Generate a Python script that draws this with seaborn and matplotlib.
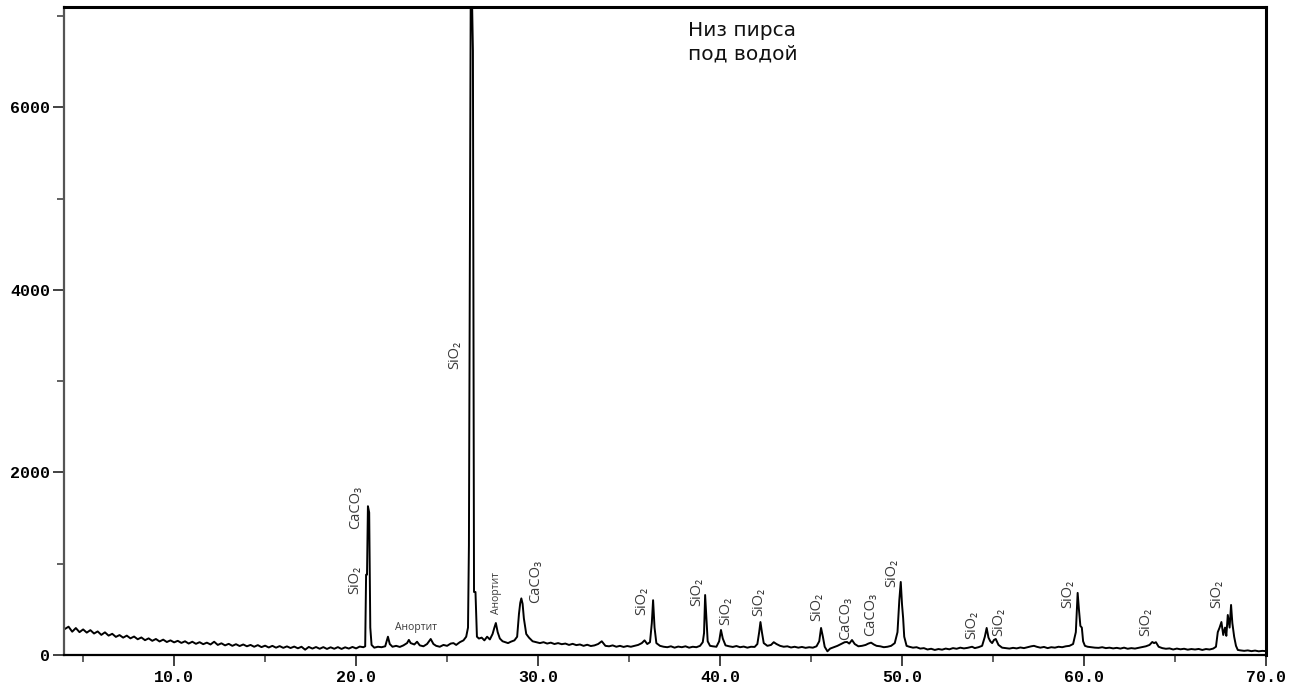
import numpy as np
import pandas as pd
import matplotlib
matplotlib.use("Agg")
import matplotlib.pyplot as plt
from matplotlib.ticker import MultipleLocator, FuncFormatter
import seaborn as sns

sns.set_style("white")

# ==========================================================
# DIFFRACTOGRAM
# ==========================================================

two_theta = [
    4.0, 4.2, 4.4, 4.6, 4.8, 5.0, 5.2, 5.4, 5.6, 5.8, 6.0, 6.2, 6.4, 6.6, 6.8,
    7.0, 7.2, 7.4, 7.6, 7.8, 8.0, 8.2, 8.4, 8.6, 8.8, 9.0, 9.2, 9.4, 9.6, 9.8,
    10.0, 10.2, 10.4, 10.6, 10.8, 11.0, 11.2, 11.4, 11.6, 11.8, 12.0, 12.2,
    12.4, 12.6, 12.8, 13.0, 13.2, 13.4, 13.6, 13.8, 14.0, 14.2, 14.4, 14.6,
    14.8, 15.0, 15.2, 15.4, 15.6, 15.8, 16.0, 16.2, 16.4, 16.6, 16.8, 17.0,
    17.2, 17.4, 17.6, 17.8, 18.0, 18.2, 18.4, 18.6, 18.8, 19.0, 19.2, 19.4,
    19.6, 19.8, 20.0, 20.2, 20.4,
    20.5, 20.55, 20.6, 20.65, 20.72, 20.78, 20.85, 21.0, 21.2, 21.4, 21.6,
    21.75, 21.85, 22.0, 22.2, 22.4, 22.6, 22.8, 22.9, 23.0, 23.2, 23.35, 23.5,
    23.7, 23.9, 24.1, 24.25, 24.4, 24.6, 24.8, 25.0, 25.2, 25.35, 25.5, 25.7,
    25.9, 26.05, 26.15, 26.2, 26.25, 26.3, 26.36, 26.42, 26.48, 26.56, 26.64,
    26.75, 26.9, 27.05, 27.2, 27.35, 27.5, 27.6, 27.68, 27.78, 27.9, 28.05,
    28.2, 28.35, 28.5, 28.7, 28.85, 28.95, 29.02, 29.08, 29.15, 29.22, 29.35,
    29.5, 29.7, 29.9, 30.1, 30.3, 30.5, 30.7, 30.9, 31.1, 31.3, 31.5, 31.7,
    31.9, 32.1, 32.3, 32.5, 32.7, 32.9, 33.1, 33.3, 33.5, 33.7, 33.9, 34.1,
    34.3, 34.5, 34.7, 34.9, 35.1, 35.3, 35.5, 35.7, 35.85, 36.0, 36.15, 36.25,
    36.32, 36.4, 36.5, 36.7, 36.9, 37.1, 37.3, 37.5, 37.7, 37.9, 38.1, 38.3,
    38.5, 38.7, 38.9, 39.05, 39.12, 39.18, 39.25, 39.32, 39.45, 39.6, 39.8,
    39.95, 40.05, 40.15, 40.3, 40.5, 40.7, 40.9, 41.1, 41.3, 41.5, 41.7, 41.9,
    42.05, 42.15, 42.22, 42.3, 42.4, 42.6, 42.8, 42.95, 43.1, 43.3, 43.5,
    43.7, 43.9, 44.1, 44.3, 44.5, 44.7, 44.9, 45.1, 45.3, 45.45, 45.55, 45.65,
    45.75, 45.9, 46.05, 46.25, 46.45, 46.65, 46.85, 46.98, 47.1, 47.25, 47.4,
    47.6, 47.8, 48.0, 48.15, 48.3, 48.45, 48.6, 48.8, 49.0, 49.2, 49.4, 49.6,
    49.75, 49.85, 49.93, 50.0, 50.06, 50.12, 50.25, 50.4, 50.6, 50.8, 51.0,
    51.2, 51.4, 51.6, 51.8, 52.0, 52.2, 52.4, 52.6, 52.8, 53.0, 53.2, 53.4,
    53.6, 53.85, 54.0, 54.2, 54.4, 54.55, 54.65, 54.75, 54.85, 54.95, 55.05,
    55.15, 55.3, 55.5, 55.7, 55.9, 56.1, 56.3, 56.5, 56.7, 56.9, 57.1, 57.25,
    57.4, 57.6, 57.8, 58.0, 58.2, 58.4, 58.6, 58.8, 59.0, 59.2, 59.4, 59.55,
    59.65, 59.72, 59.8, 59.88, 59.95, 60.05, 60.2, 60.4, 60.6, 60.8, 61.0,
    61.2, 61.4, 61.6, 61.8, 62.0, 62.2, 62.4, 62.6, 62.8, 63.0, 63.2, 63.4,
    63.6, 63.75, 63.85, 63.95, 64.1, 64.3, 64.5, 64.7, 64.9, 65.1, 65.3, 65.5,
    65.7, 65.9, 66.1, 66.3, 66.5, 66.7, 66.9, 67.1, 67.25, 67.35, 67.45, 67.55,
    67.65, 67.75, 67.82, 67.9, 68.0, 68.08, 68.15, 68.25, 68.35, 68.45, 68.6,
    68.8, 69.0, 69.2, 69.4, 69.6, 69.8, 70.0,
]

intensity = [
    285, 310, 255, 295, 250, 280, 245, 272, 235, 258, 220, 248, 212, 232, 198,
    218, 190, 212, 182, 202, 172, 192, 162, 182, 155, 175, 148, 168, 142, 160,
    138, 155, 132, 150, 125, 145, 122, 140, 118, 135, 115, 145,
    110, 128, 105, 122, 100, 118, 98, 115, 95, 110, 90, 108,
    86, 102, 82, 100, 80, 97, 78, 94, 76, 92, 73, 90,
    58, 88, 70, 87, 68, 86, 66, 84, 68, 86, 66, 84,
    70, 88, 72, 92, 85,
    95, 880, 880, 1630, 1560, 300, 110, 80, 90, 85, 95,
    200, 120, 90, 100, 88, 105, 130, 165, 130, 115, 145, 105,
    95, 120, 175, 120, 100, 90, 110, 100, 125, 130, 110, 140,
    160, 200, 300, 1200, 4100, 7300, 7300, 6620, 690, 690, 200,
    180, 190, 160, 200, 170, 230, 300, 350, 250, 180, 150,
    140, 130, 145, 160, 200, 450, 570, 620, 560, 400, 230,
    190, 150, 140, 130, 140, 125, 135, 120, 130, 118, 125, 110,
    122, 108, 115, 100, 112, 98, 105, 120, 150, 100, 95, 105,
    90, 100, 88, 98, 90, 100, 110, 130, 160, 120, 140, 350,
    600, 300, 130, 100, 90, 85, 95, 80, 92, 85, 95, 80,
    90, 85, 100, 140, 240, 657, 400, 150, 100, 95, 90,
    150, 274, 180, 105, 95, 88, 98, 85, 92, 80, 90, 88,
    120, 250, 361, 250, 130, 100, 110, 140, 120, 100, 90,
    95, 82, 90, 80, 88, 78, 85, 80, 95, 150, 296, 200,
    90, 40, 70, 85, 100, 120, 140, 142, 125, 164, 120,
    95, 100, 110, 125, 135, 115, 100, 95, 85, 90, 100, 130,
    250, 600, 800, 550, 405, 200, 100, 90, 80, 85, 70,
    75, 60, 68, 55, 65, 58, 70, 62, 75, 68, 80, 72,
    78, 90, 75, 85, 100, 200, 296, 190, 150, 130, 164,
    175, 110, 80, 75, 70, 78, 72, 82, 75, 85, 95, 100,
    90, 80, 88, 75, 85, 80, 90, 85, 95, 100, 120, 250,
    680, 500, 318, 300, 150, 100, 90, 85, 80, 78, 85,
    75, 80, 72, 78, 70, 80, 68, 75, 70, 78, 85, 95,
    110, 142, 130, 140, 90, 75, 68, 72, 60, 70, 62, 68,
    58, 65, 60, 66, 55, 65, 60, 70, 90, 250, 300, 361,
    219, 300, 210, 438, 300, 548, 350, 200, 100, 55, 50,
    45, 50, 42, 48, 40, 45, 42,
]

# phase labels: text, 2theta, intensity, rotation
label_text = ["SiO₂", "CaCO₃", "SiO₂", "Анортит", "Анортит", "CaCO₃",
              "SiO₂", "SiO₂", "SiO₂", "SiO₂", "SiO₂", "CaCO₃", "CaCO₃",
              "SiO₂", "SiO₂", "SiO₂", "SiO₂", "SiO₂", "SiO₂"]
label_x = [19.9, 20.0, 25.4, 23.3, 27.7, 29.85,
           35.7, 38.7, 40.3, 42.1, 45.3, 46.9, 48.3,
           49.45, 53.85, 55.3, 59.1, 63.4, 67.3]
label_y = [820, 1620, 3290, 296, 680, 810,
           590, 690, 480, 580, 525, 405, 440,
           895, 330, 360, 670, 360, 670]
label_rot = [90, 90, 90, 0, 90, 90,
             90, 90, 90, 90, 90, 90, 90,
             90, 90, 90, 90, 90, 90]

df = pd.DataFrame({"two_theta": two_theta, "intensity": intensity})

# ==========================================================
# FIGURE
# ==========================================================

fig = plt.figure(figsize=(13.01, 6.95), dpi=100)
ax = fig.add_axes([0.0492, 0.0576, 0.9239, 0.9323])

sns.lineplot(data=df, x="two_theta", y="intensity", ax=ax,
             color="black", linewidth=1.4, estimator=None, sort=False)

ax.set_xlim(3.95, 70)
ax.set_ylim(0, 7100)
ax.set_xlabel("")
ax.set_ylabel("")

ax.xaxis.set_major_locator(MultipleLocator(10))
ax.xaxis.set_minor_locator(MultipleLocator(5))
ax.yaxis.set_major_locator(MultipleLocator(2000))
ax.yaxis.set_minor_locator(MultipleLocator(1000))
ax.xaxis.set_major_formatter(FuncFormatter(lambda v, p: f"{v:.1f}"))
ax.yaxis.set_major_formatter(FuncFormatter(lambda v, p: f"{v:.0f}"))

tick_font = matplotlib.font_manager.FontProperties(
    family="Liberation Mono", weight="bold", size=12)
for lab in ax.get_xticklabels() + ax.get_yticklabels():
    lab.set_fontproperties(tick_font)
    lab.set_color("black")

ax.tick_params(axis="both", which="both", bottom=True, left=True,
               top=False, right=False, direction="out")
ax.tick_params(axis="both", which="major", length=8, width=1.3,
               color="#333333")
ax.tick_params(axis="both", which="minor", length=5, width=1.3,
               color="#555555")
ax.tick_params(axis="x", which="major", pad=3)
ax.tick_params(axis="y", which="major", pad=2)

ax.spines["left"].set_color("#555555")
ax.spines["left"].set_linewidth(1.6)
ax.spines["bottom"].set_color("black")
ax.spines["bottom"].set_linewidth(1.6)
ax.spines["top"].set_color("black")
ax.spines["top"].set_linewidth(2.2)
ax.spines["right"].set_color("black")
ax.spines["right"].set_linewidth(2.2)

for t, x, y, r in zip(label_text, label_x, label_y, label_rot):
    ax.text(x, y, t, rotation=r, ha="center", va="center",
            fontsize=7.5 if t == "Анортит" else 10.5,
            color="#3a3a3a", family=["Open Sans", "DejaVu Sans"])

ax.text(0.519, 0.978, "Низ пирса\nпод водой", transform=ax.transAxes,
        ha="left", va="top", fontsize=14.5, linespacing=1.3,
        color="#111111", family=["DejaVu Sans"])

plt.savefig("out.png", dpi=100)
plt.close()
